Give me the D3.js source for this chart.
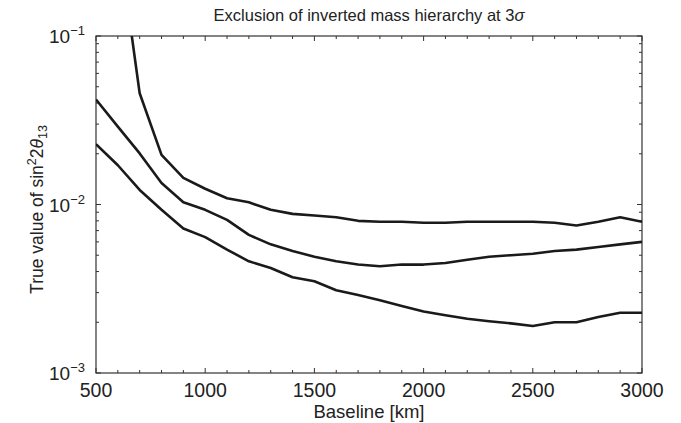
<!DOCTYPE html>
<html><head><meta charset="utf-8">
<script src="https://cdn.jsdelivr.net/npm/d3@7"></script>
<style>body{margin:0;background:#fff}svg{display:block}text{font-family:"Liberation Sans",Arial,sans-serif;fill:#222}</style>
</head><body><svg id="c" width="681" height="423"></svg>
<script>
const baseline = [500,600,700,800,900,1000,1100,1200,1300,1400,1500,1600,1700,1800,1900,2000,2100,2200,2300,2400,2500,2600,2700,2800,2900,3000];
const upperCurve = [null,0.4,0.0457,0.0197,0.0144,0.0124,0.0109,0.0103,0.0093,0.0088,0.0086,0.0084,0.008,0.0079,0.0079,0.0078,0.0078,0.0079,0.0079,0.0079,0.0079,0.0078,0.0075,0.0079,0.0084,0.0079];
const middleCurve = [0.042,0.029,0.0201,0.0134,0.0103,0.0093,0.0081,0.0066,0.0058,0.0053,0.0049,0.0046,0.0044,0.0043,0.0044,0.0044,0.0045,0.0047,0.0049,0.005,0.0051,0.0053,0.0054,0.0056,0.0058,0.006];
const lowerCurve = [0.0228,0.0171,0.0122,0.0093,0.0072,0.0064,0.0054,0.0046,0.0042,0.0037,0.0035,0.0031,0.0029,0.0027,0.0025,0.00232,0.0022,0.0021,0.00203,0.00197,0.0019,0.002,0.002,0.00215,0.00228,0.00228];
const xTicks = [500,1000,1500,2000,2500,3000];
const yTickExps = [-1,-2,-3];

const svg = d3.select("#c");
const L=96, R=642, T=36, B=373;
const x = d3.scaleLinear().domain([500,3000]).range([L,R]);
const y = d3.scaleLog().domain([1e-3,1e-1]).range([B,T]);
const axisColor="#333";

svg.append("clipPath").attr("id","clip").append("rect").attr("x",L).attr("y",T).attr("width",R-L).attr("height",B-T);

svg.append("rect").attr("x",L).attr("y",T).attr("width",R-L).attr("height",B-T).attr("fill","none").attr("stroke",axisColor).attr("stroke-width",1.2);

const xMinor = d3.range(500,3001,100);
const g = svg.append("g").attr("stroke",axisColor).attr("stroke-width",1);
xMinor.forEach(v=>{
  const len = (v%500===0)?5:3;
  g.append("line").attr("x1",x(v)).attr("x2",x(v)).attr("y1",B).attr("y2",B-len);
  g.append("line").attr("x1",x(v)).attr("x2",x(v)).attr("y1",T).attr("y2",T+len);
});
const yMinor=[];
for(const e of [-3,-2]){for(let m=1;m<10;m++)yMinor.push(m*Math.pow(10,e));}
yMinor.push(0.1);
yMinor.forEach(v=>{
  const major = Math.abs(Math.log10(v)-Math.round(Math.log10(v)))<1e-9;
  const len = major?5:3;
  g.append("line").attr("x1",L).attr("x2",L+len).attr("y1",y(v)).attr("y2",y(v));
  g.append("line").attr("x1",R).attr("x2",R-len).attr("y1",y(v)).attr("y2",y(v));
});

xTicks.forEach(v=>{
  svg.append("text").attr("x",x(v)).attr("y",B+24).attr("text-anchor","middle").attr("font-size",19.5).text(v);
});
yTickExps.forEach(e=>{
  const t = svg.append("text").attr("x",L-11).attr("y",y(Math.pow(10,e))+7).attr("text-anchor","end").attr("font-size",19);
  t.append("tspan").text("10");
  t.append("tspan").attr("dy",-8).attr("font-size",13).text("\u2212"+Math.abs(e));
});

const title = svg.append("text").attr("x",(L+R)/2).attr("y",21).attr("text-anchor","middle").attr("font-size",16.5);
title.append("tspan").text("Exclusion of inverted mass hierarchy at 3");
title.append("tspan").attr("font-style","italic").text("\u03c3");

svg.append("text").attr("x",(L+R)/2).attr("y",B+45).attr("text-anchor","middle").attr("font-size",18.5).text("Baseline [km]");

const yl = svg.append("text").attr("transform",`translate(43,${(T+B)/2+5}) rotate(-90)`).attr("text-anchor","middle").attr("font-size",17.5);
yl.append("tspan").text("True value of sin");
yl.append("tspan").attr("dy",-7).attr("font-size",12.5).text("2");
yl.append("tspan").attr("dy",7).text("2");
yl.append("tspan").attr("font-style","italic").text("\u03b8");
yl.append("tspan").attr("dy",4).attr("font-size",12.5).text("13");

const line = d3.line().defined(d=>d[1]!=null).x(d=>x(d[0])).y(d=>y(d[1]));
[upperCurve,middleCurve,lowerCurve].forEach(s=>{
  svg.append("path").attr("clip-path","url(#clip)").attr("d",line(baseline.map((b,i)=>[b,s[i]])))
    .attr("fill","none").attr("stroke","#1a1a1a").attr("stroke-width",2.6).attr("stroke-linejoin","round");
});
</script></body></html>
